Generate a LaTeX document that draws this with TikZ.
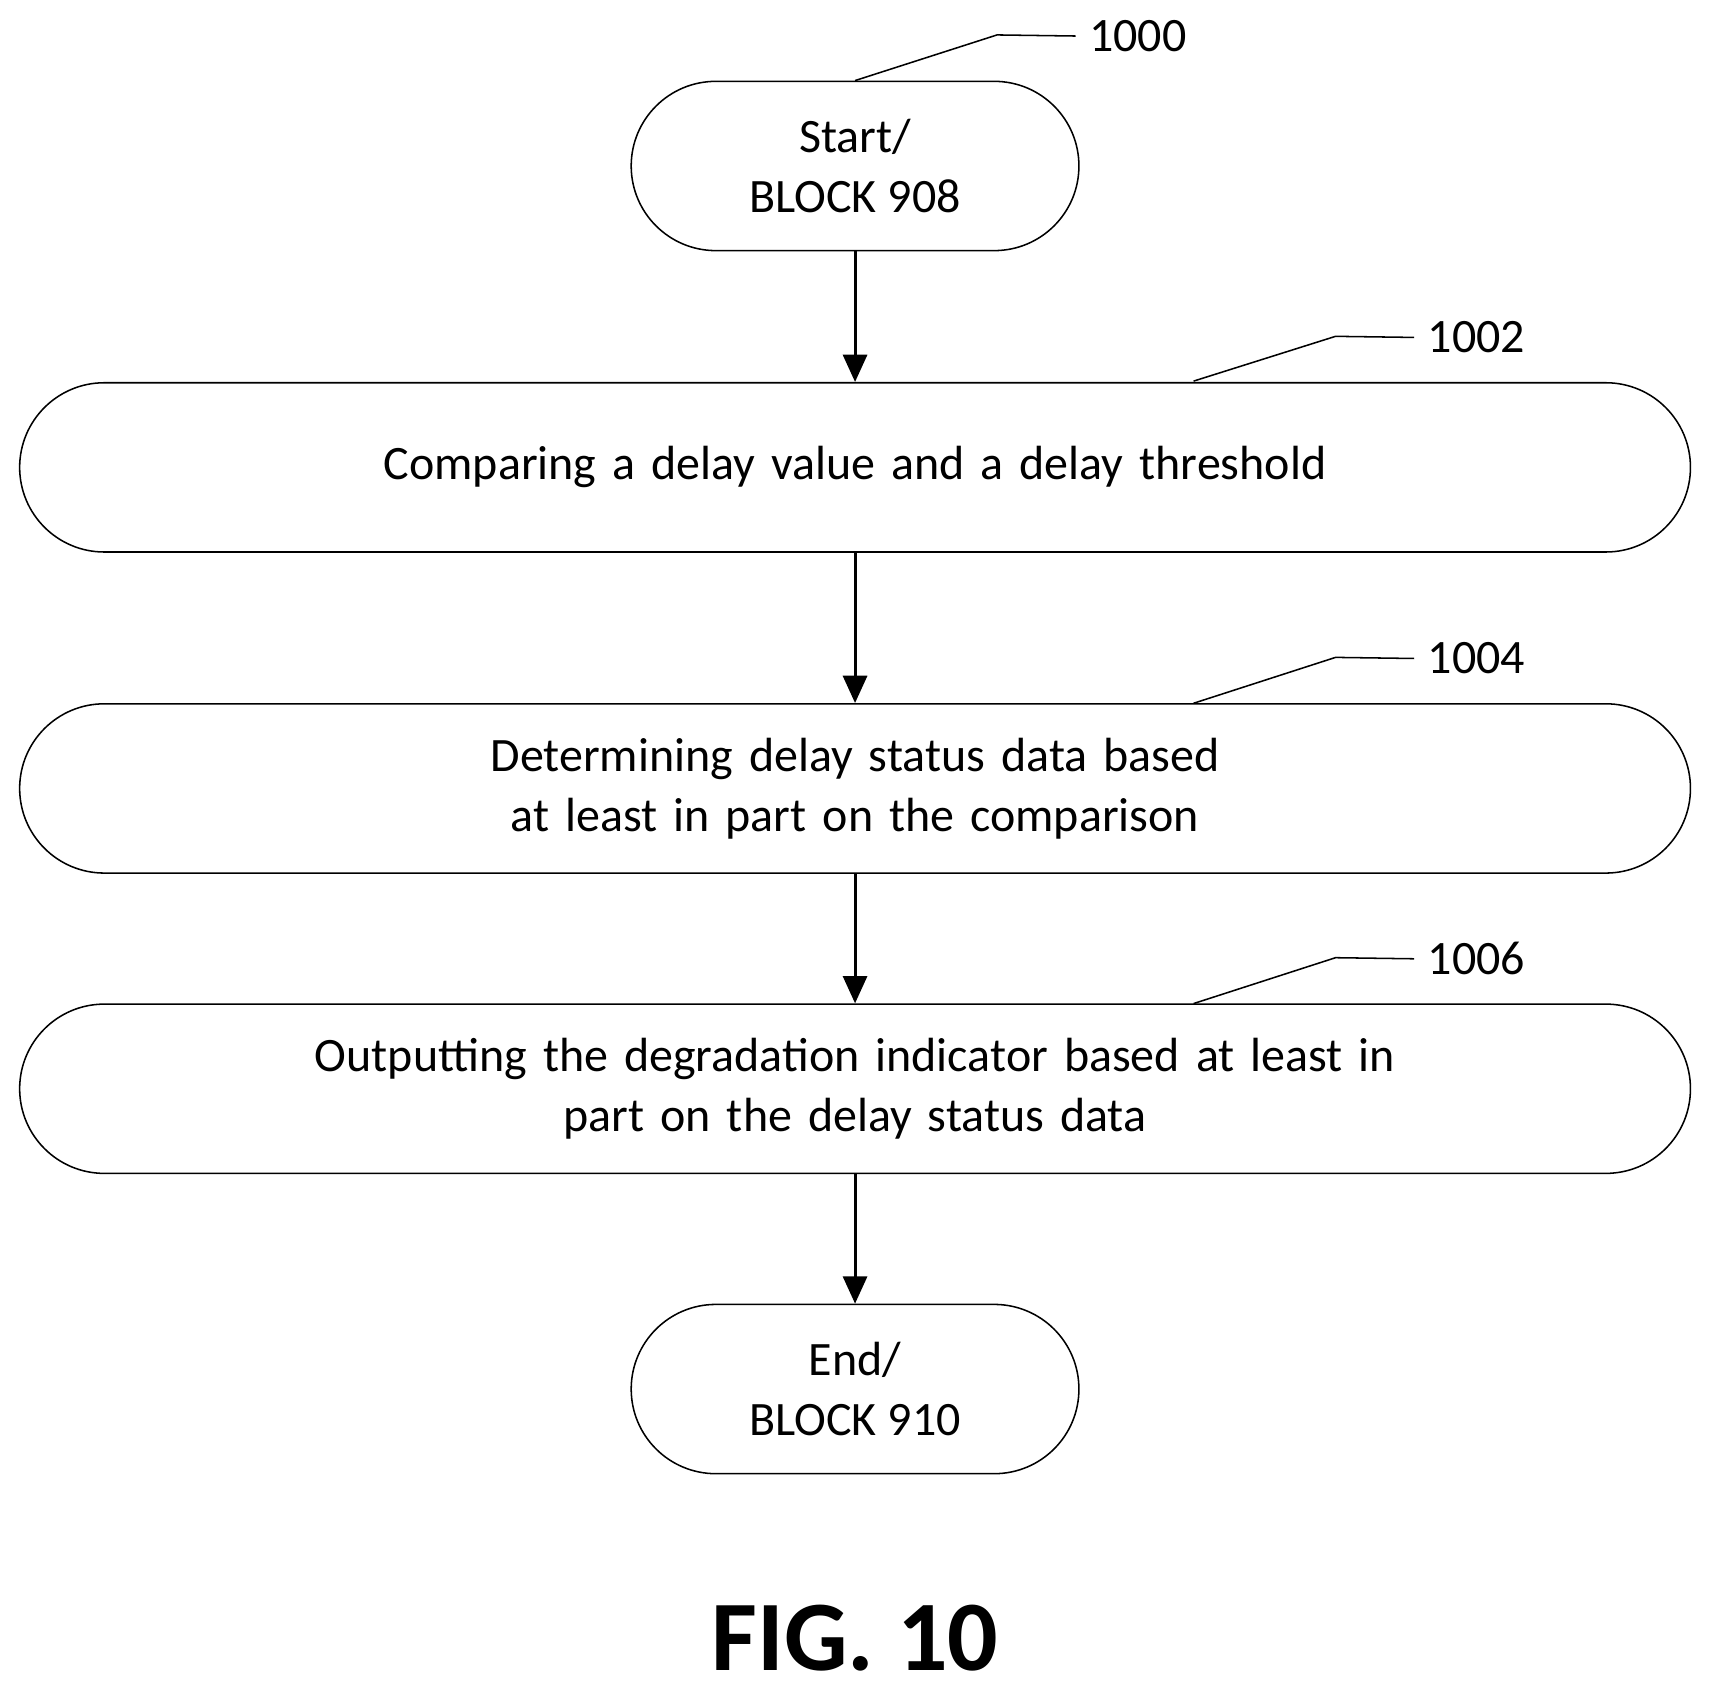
\documentclass[tikz,border=0pt]{standalone}
\usepackage{fontspec}
\setmainfont{Carlito}
\usetikzlibrary{arrows.meta, positioning}
\tikzstyle{fTerminal} = [rectangle, rounded corners=0.775cm, minimum width=4.1cm, minimum height=1.55cm, text centered, align=center, draw=black, font=\fontsize{12.5}{15.6}\selectfont]
\tikzstyle{fStep} = [fTerminal, minimum width=15.3cm, text width=11cm]
\tikzstyle{fArrow} = [thick, -{Triangle[length=0.25cm, width=0.22cm]}]
\tikzstyle{fLead} = [thin]
\begin{document}
\begin{tikzpicture}
    \useasboundingbox (0,0) rectangle (15.65,-15.486);
    \node (start) [fTerminal] at (7.83,-1.52) {Start/\\BLOCK 908};
    \node (compare) [fStep] at (7.83,-4.28) {Comparing a delay value and a delay threshold};
    \node (status) [fStep] at (7.83,-7.22) {Determining delay status data based\\at least in part on the comparison};
    \node (output) [fStep] at (7.83,-9.97) {Outputting the degradation indicator based at least in\\part on the delay status data};
    \node (stop) [fTerminal] at (7.83,-12.72) {End/\\BLOCK 910};
    \node (fig) [font=\fontsize{26}{28}\selectfont\bfseries] at (7.83,-15.0) {FIG. 10};

    \draw [fArrow] (start) -- (compare);
    \draw [fArrow] (compare) -- (status);
    \draw [fArrow] (status) -- (output);
    \draw [fArrow] (output) -- (stop);

    % reference numerals
    \node (ref1000) [anchor=west, font=\fontsize{12.5}{15}\selectfont] at (9.85,-0.33) {1000};
    \draw [fLead] (start.north) -- (9.13,-0.32) -- (ref1000.west);
    \coordinate (lead1002) at (10.93,-3.49);
    \node (ref1002) [anchor=west, font=\fontsize{12.5}{15}\selectfont] at (12.95,-3.09) {1002};
    \draw [fLead] (lead1002) -- (12.23,-3.08) -- (ref1002.west);
    \coordinate (lead1004) at (10.93,-6.44);
    \node (ref1004) [anchor=west, font=\fontsize{12.5}{15}\selectfont] at (12.95,-6.03) {1004};
    \draw [fLead] (lead1004) -- (12.23,-6.02) -- (ref1004.west);
    \coordinate (lead1006) at (10.93,-9.19);
    \node (ref1006) [anchor=west, font=\fontsize{12.5}{15}\selectfont] at (12.95,-8.78) {1006};
    \draw [fLead] (lead1006) -- (12.23,-8.77) -- (ref1006.west);
\end{tikzpicture}
\end{document}
